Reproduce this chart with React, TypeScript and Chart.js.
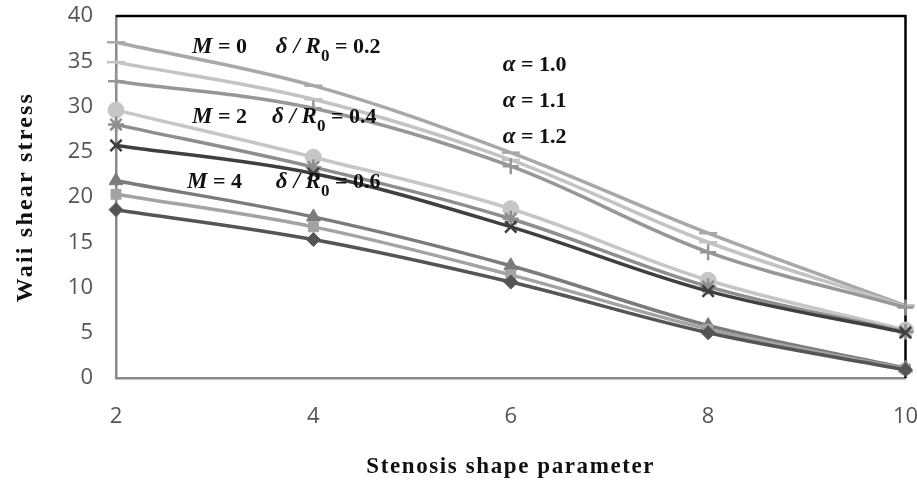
import React, { useEffect, useRef } from "react";
import { Chart, registerables } from "chart.js";

Chart.register(...registerables);

const xValues = [2, 4, 6, 8, 10];

const m0a = [37.1, 32.3, 24.9, 16.0, 8.0];
const m0b = [34.9, 30.8, 24.1, 15.0, 7.9];
const m0c = [32.8, 29.8, 23.4, 13.9, 7.8];
const m2a = [29.6, 24.4, 18.7, 10.8, 5.3];
const m2b = [28.0, 23.3, 17.6, 10.1, 5.1];
const m2c = [25.7, 22.6, 16.7, 9.6, 5.0];
const m4a = [21.8, 17.8, 12.4, 5.8, 1.1];
const m4b = [20.3, 16.7, 11.4, 5.4, 1.0];
const m4c = [18.6, 15.3, 10.6, 5.0, 0.9];

const yTicks = [0, 5, 10, 15, 20, 25, 30, 35, 40];

const xTitle = "Stenosis shape parameter";
const yTitle = "Waii shear stress";

const groupLabels = [
  { m: "0", d: "0.2", x: 2.77, dx: 3.62, y: 35.9 },
  { m: "2", d: "0.4", x: 2.77, dx: 3.58, y: 28.2 },
  { m: "4", d: "0.6", x: 2.72, dx: 3.62, y: 21.0 },
];
const alphaLabels = [
  { t: "1.0", x: 5.92, y: 33.9 },
  { t: "1.1", x: 5.92, y: 29.9 },
  { t: "1.2", x: 5.92, y: 26.0 },
];

const serif = "'Liberation Serif', 'DejaVu Serif', serif";

function pts(arr: number[]) {
  return arr.map((v, i) => ({ x: xValues[i], y: v }));
}

const seriesDefs = [
  { data: m4c, color: "#555555", style: "rectRot", r: 7 },
  { data: m4b, color: "#a3a3a3", style: "rect", r: 7 },
  { data: m4a, color: "#7b7b7b", style: "triangle", r: 8 },
  { data: m2c, color: "#3f3f3f", style: "crossRot", r: 8 },
  { data: m2b, color: "#8e8e8e", style: "star", r: 8 },
  { data: m2a, color: "#c6c6c6", style: "circle", r: 8 },
  { data: m0c, color: "#979797", style: "cross", r: 8 },
  { data: m0b, color: "#c3c3c3", style: "line", r: 9 },
  { data: m0a, color: "#a8a8a8", style: "line", r: 9 },
];

const framePlugin = {
  id: "frame",
  beforeDatasetsDraw(chart: any) {
    const { ctx, chartArea } = chart;
    ctx.save();
    ctx.strokeStyle = "#000";
    ctx.lineWidth = 2.5;
    ctx.beginPath();
    ctx.moveTo(chartArea.left, chartArea.top);
    ctx.lineTo(chartArea.right, chartArea.top);
    ctx.lineTo(chartArea.right, chartArea.bottom);
    ctx.stroke();
    ctx.restore();
  },
};

const textPlugin = {
  id: "annot",
  afterDatasetsDraw(chart: any) {
    const { ctx, chartArea } = chart;
    const xs = chart.scales.x;
    const ys = chart.scales.y;
    ctx.save();
    ctx.fillStyle = "#111";
    ctx.textBaseline = "alphabetic";
    ctx.textAlign = "left";
    const draw = (segs: { t: string; f: string; dy?: number }[], x: number, y: number) => {
      let cx = x;
      for (const s of segs) {
        ctx.font = s.f;
        ctx.fillText(s.t, cx, y + (s.dy || 0));
        cx += ctx.measureText(s.t).width;
      }
    };
    const bi = `italic bold 23px ${serif}`;
    const b = `bold 22px ${serif}`;
    const sub = `bold 17px ${serif}`;
    for (const g of groupLabels) {
      const px = xs.getPixelForValue(g.x);
      const py = ys.getPixelForValue(g.y);
      draw([{ t: "M", f: bi }, { t: " = ", f: b }, { t: g.m, f: b }], px, py);
      const dpx = xs.getPixelForValue(g.dx);
      draw(
        [
          { t: "δ", f: bi },
          { t: " / ", f: bi },
          { t: "R", f: bi },
          { t: "0", f: sub, dy: 8 },
          { t: " = " + g.d, f: b },
        ],
        dpx,
        py
      );
    }
    for (const a of alphaLabels) {
      draw([{ t: "α", f: bi }, { t: " = " + a.t, f: b }], xs.getPixelForValue(a.x), ys.getPixelForValue(a.y));
    }
    ctx.restore();

    // axis titles
    ctx.save();
    ctx.fillStyle = "#111";
    ctx.textAlign = "center";
    ctx.textBaseline = "middle";
    ctx.font = `bold 23px ${serif}`;
    (ctx as any).letterSpacing = "1.6px";
    ctx.fillText(xTitle, (chartArea.left + chartArea.right) / 2, chart.height - 18);
    ctx.font = `bold 24px ${serif}`;
    (ctx as any).letterSpacing = "2.2px";
    ctx.translate(26, (chartArea.top + chartArea.bottom) / 2);
    ctx.rotate(-Math.PI / 2);
    ctx.fillText(yTitle, 0, 0);
    ctx.restore();
  },
};

export default function App() {
  const ref = useRef<HTMLCanvasElement | null>(null);
  useEffect(() => {
    document.body.style.margin = "0";
    if (!ref.current) return;
    const chart = new Chart(ref.current, {
      type: "line",
      data: {
        datasets: seriesDefs.map((s) => ({
          data: pts(s.data),
          borderColor: s.color,
          backgroundColor: s.color,
          borderWidth: 3.5,
          tension: 0.35,
          pointStyle: s.style as any,
          pointRadius: s.r,
          pointBorderWidth: s.style === "cross" || s.style === "crossRot" || s.style === "star" || s.style === "line" ? 2.5 : 1,
          pointBorderColor: s.color,
          pointBackgroundColor: s.color,
          fill: false,
          clip: false as any,
        })),
      },
      options: {
        animation: false,
        responsive: false,
        layout: { padding: { top: 16, right: 11, left: 0, bottom: 0 } },
        plugins: { legend: { display: false }, tooltip: { enabled: false } },
        scales: {
          x: {
            type: "linear",
            min: 2,
            max: 10,
            afterFit: (s: any) => {
              s.height = 107;
              s.paddingLeft = 0;
              s.paddingRight = 0;
            },
            afterBuildTicks: (s: any) => {
              s.ticks = xValues.map((v) => ({ value: v }));
            },
            ticks: {
              padding: 26,
              color: "#555555",
              font: { family: "'Open Sans'", size: 22 },
            },
            grid: { display: false, drawTicks: false },
            border: { display: true, color: "#8a8a8a", width: 2.5 },
          },
          y: {
            min: 0,
            max: 40,
            afterFit: (s: any) => {
              s.width = 116;
              s.paddingTop = 0;
              s.paddingBottom = 0;
            },
            afterBuildTicks: (s: any) => {
              s.ticks = yTicks.map((v) => ({ value: v }));
            },
            ticks: {
              padding: 23,
              color: "#555555",
              font: { family: "'Open Sans'", size: 22 },
            },
            grid: { display: false, drawTicks: false },
            border: { display: true, color: "#8a8a8a", width: 2.5 },
          },
        },
      },
      plugins: [framePlugin, textPlugin],
    });
    return () => chart.destroy();
  }, []);
  return (
    <div style={{ width: 917, height: 485 }}>
      <canvas ref={ref} width={917} height={485} />
    </div>
  );
}
